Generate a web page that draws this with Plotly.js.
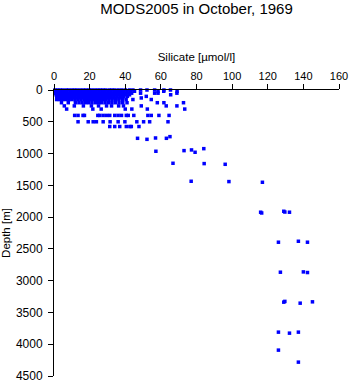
<!DOCTYPE html>
<html>
<head>
<meta charset="utf-8">
<script src="https://cdn.plot.ly/plotly-3.0.1.min.js"></script>
<style>html,body{margin:0;padding:0;background:#fff;}#chart{width:351px;height:384px;}</style>
</head>
<body>
<div id="chart"></div>
<script>
// Standard depth levels (m) of the upper ocean and silicate values (µmol/l) observed at each
const levelDepths = [0, 20, 50, 75, 100, 125, 150, 200, 250, 300, 400, 500, 575];
const si_0m   = [0.5,2,3.5,5,6.8,8.2,10,11.5,13,14.8,16.5,18,19.6,21,22.8,24.5,26,27.5,29,31,32.5,34,36,38,40,42.4,44.3,48.6,52.2,56.5,61.7,65.4];
const si_20m  = [0.8,2.4,4,5.6,7.1,9,10.6,12.2,13.9,15.5,17.2,18.8,20.4,22,23.6,25.3,27,28.6,30.3,32,33.8,35.5,37.4,39.2,41,43,45.2,58.4,61.6,69.1];
const si_50m  = [1,2.7,4.3,6,7.6,9.3,11,12.6,14.2,15.9,17.5,19.2,20.9,22.5,24.2,25.8,27.5,29.2,30.8,32.5,34.2,36,37.8,39.6,41.5,43.6,48.6,56.5,58.4,69];
const si_75m  = [1.2,2.9,4.6,6.3,8,9.7,11.4,13,14.7,16.4,18,19.7,21.4,23,24.7,26.4,28,29.7,31.4,33,34.8,36.6,38.5,40.3,42.4,65.5];
const si_100m = [1.5,3.2,4.9,6.6,8.3,10,11.7,13.4,15,16.7,18.4,20,21.7,23.4,25,26.7,28.4,30,31.8,33.6,35.4,37.3,39.2,41.2,51.8];
const si_125m = [2,3.8,5.5,7.2,9,10.7,12.4,14.1,15.8,17.5,19.2,20.9,22.6,24.3,26,27.7,29.4,31.1,32.9,34.7,36.6,38.6,49];
const si_150m = [1.5,3,4.8,6.5,8.3,10,11.8,13.5,15.2,17,18.7,20.4,22.1,23.8,25.5,27.3,29,30.8,32.6,34.5,36.4,38.4,40.5,44.3,54.6];
const si_200m = [4.2,8,12,14,15.8,17.7,19.5,21.3,23.2,25,26.8,28.7,30.6,32.5,34.4,36.5,38.6,41,58,61.7,72.7];
const si_250m = [5.8,11.4,16.5,21,25,29.5,32.3,36.3,39,49,63,69];
const si_300m = [7.1,21.8,26.5,40,43.7,52.4,73.4];
const si_400m = [11.6,13.5,16.3,17.1,24.6,25.7,27.6,29.5,31.3,34.1,36,37.9,40.6,41.7,44.8,52.7,54.6,58.9,64.6];
const si_500m = [13.5,19.2,22,23.8,27.6,31.5,36,39.8,46.5,50.3,53.7,64];
const si_575m = [31.3,34.1,36.9,40.6,42.6,43.4,47.7];
const levelSilicate = [si_0m, si_20m, si_50m, si_75m, si_100m, si_125m, si_150m, si_200m, si_250m, si_300m, si_400m, si_500m, si_575m];

// Deeper individual observations
const deepSi    = [46.9, 52.2, 57, 63.1, 65.1, 57.2, 73, 77.2, 79.2, 84.1, 66.8, 84.3, 96.1, 77, 98.2, 117,
                   116, 116.6, 129, 129.6, 132.2, 126, 137.2, 142.3, 127.1, 140, 142.3, 129, 129.6, 138.2, 145.1,
                   126, 132.2, 137.2, 126, 137.2];
const deepDepth = [760, 776, 755, 760, 734, 964, 954, 943, 980, 923, 1153, 1158, 1169, 1436, 1441, 1452,
                   1923, 1935, 1908, 1920, 1923, 2395, 2380, 2395, 2867, 2862, 2872, 3338, 3326, 3354, 3333,
                   3810, 3826, 3810, 4093, 4282];

const xs = [], ys = [];
levelDepths.forEach(function (d, i) {
  levelSilicate[i].forEach(function (s) { xs.push(s); ys.push(d); });
});
deepSi.forEach(function (s, i) { xs.push(s); ys.push(deepDepth[i]); });

const trace = {
  x: xs, y: ys, type: 'scatter', mode: 'markers', cliponaxis: false,
  marker: {symbol: 'square', size: 3.5, color: '#0000ff', line: {width: 0}},
  hoverinfo: 'skip'
};

const font = 'Liberation Sans, Arial, Helvetica, sans-serif';
const layout = {
  width: 351, height: 384,
  margin: {l: 54, r: 12, t: 90, b: 8, pad: 0},
  paper_bgcolor: '#fff', plot_bgcolor: '#fff',
  showlegend: false,
  font: {family: font, size: 11, color: '#000'},
  title: {text: 'MODS2005 in October, 1969', x: 0.5, xref: 'paper', xanchor: 'center',
          y: 1 - 3 / 384, yref: 'container', yanchor: 'top',
          font: {family: font, size: 15, color: '#000'}},
  xaxis: {
    side: 'top', range: [0, 160], dtick: 20, tick0: 0,
    ticks: 'outside', ticklen: 5, tickwidth: 1, tickcolor: '#000',
    showline: true, linecolor: '#000', linewidth: 1, mirror: false,
    showgrid: false, zeroline: false,
    tickfont: {family: font, size: 11, color: '#000'},
    title: {text: 'Silicate [µmol/l]', font: {family: font, size: 11.5, color: '#000'}, standoff: 5}
  },
  yaxis: {
    range: [4500, 0], dtick: 500, tick0: 0,
    ticks: 'outside', ticklen: 5, tickwidth: 1, tickcolor: '#000',
    showline: true, linecolor: '#000', linewidth: 1, mirror: false,
    showgrid: false, zeroline: false,
    ticklabelstandoff: 3,
    tickfont: {family: font, size: 12, color: '#000'},
    title: {text: 'Depth [m]', font: {family: font, size: 11.5, color: '#000'}, standoff: 4}
  }
};

Plotly.newPlot('chart', [trace], layout, {displayModeBar: false, staticPlot: true});
</script>
</body>
</html>
